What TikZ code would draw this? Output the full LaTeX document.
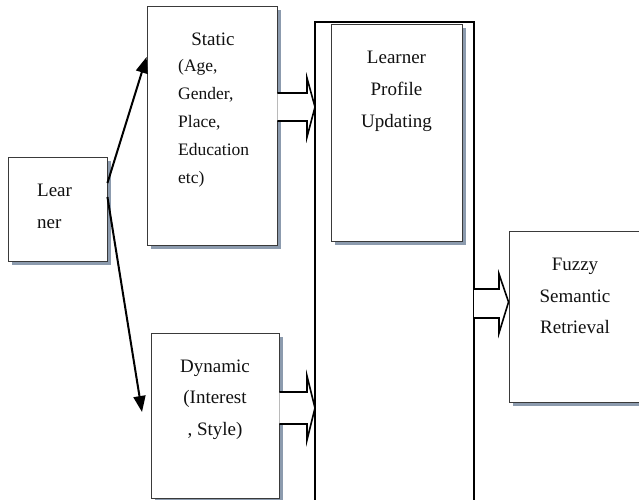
\documentclass[tikz,border=0pt]{standalone}
\usepackage{fontspec}
\setmainfont{Liberation Serif}
\usetikzlibrary{arrows.meta,backgrounds}

\definecolor{shadowc}{HTML}{8C9BAE}
\definecolor{boxline}{HTML}{3A3A3A}
\definecolor{inkc}{HTML}{111111}

\begin{document}
\begin{tikzpicture}[x=1pt,y=-1pt,
  box/.style={draw=boxline, line width=0.9pt, fill=white, inner sep=0pt},
  boxshadow/.style={fill=shadowc},
  txt/.style={font=\fontsize{19}{22}\selectfont, text=inkc, anchor=base, inner sep=0pt},
  lst/.style={font=\fontsize{17.5}{20}\selectfont, text=inkc, anchor=base west, inner sep=0pt},
  frame/.style={draw=black, line width=2pt},
  blockarrow/.style={draw=black, fill=white, line width=1.6pt, line join=miter},
  thinarrow/.style={draw=black, line width=2pt, -{Triangle[length=16pt,width=12pt]}}
]
\useasboundingbox (0,0) rectangle (639,499);
\clip (0,0) rectangle (639,499);

% outer frame (open at the bottom)
\coordinate (fbl) at (315,499);
\coordinate (ftl) at (315,22);
\coordinate (ftr) at (474,22);
\coordinate (fbr) at (474,499);
\draw[frame] ([yshift=-2pt]fbl) -- (ftl) -- (ftr) -- ([yshift=-2pt]fbr);

% boxes
\node[box, minimum width=99pt,  minimum height=104pt] (learner) at (57.5,209)   {};
\node[box, minimum width=130pt, minimum height=239pt] (static)  at (212,125.5)  {};
\node[box, minimum width=131pt, minimum height=217pt] (profile) at (396.5,132.5){};
\node[box, minimum width=128pt, minimum height=165pt] (dynamic) at (215,415.5)  {};
\node[box, minimum width=132pt, minimum height=171pt] (fuzzy)   at (575,316.5)  {};

% box shadows, offset down and right
\begin{scope}[on background layer]
  \foreach \b in {learner,static,profile,dynamic,fuzzy}
    \fill[boxshadow] ([xshift=4pt,yshift=-4pt]\b.north west)
      rectangle ([xshift=4pt,yshift=-4pt]\b.south east);
\end{scope}

% texts
\node[lst, font=\fontsize{19}{22}\selectfont] (lear) at (37,196) {Lear};
\node[lst, font=\fontsize{19}{22}\selectfont] (ner)  at (37,228) {ner};

\node[txt] (st0) at (213,45) {Static};
\node[lst] (st1) at (178,71)  {(Age,};
\node[lst] (st2) at (178,99)  {Gender,};
\node[lst] (st3) at (178,127) {Place,};
\node[lst] (st4) at (178,155) {Education};
\node[lst] (st5) at (178,183) {etc)};

\node[txt] (pr1) at (396.5,63)  {Learner};
\node[txt] (pr2) at (396.5,95)  {Profile};
\node[txt] (pr3) at (396.5,127) {Updating};

\node[txt] (dy1) at (215,372) {Dynamic};
\node[txt] (dy2) at (215,403) {(Interest};
\node[txt] (dy3) at (215,435) {, Style)};

\node[txt] (fz1) at (575,270) {Fuzzy};
\node[txt] (fz2) at (575,302) {Semantic};
\node[txt] (fz3) at (575,333) {Retrieval};

% learner to static / dynamic
\coordinate (dtip) at (142,412);
\draw[thinarrow] (learner.east |- 0,183) -- (static.west |- 0,57);
\draw[thinarrow] (learner.east |- 0,197) -- (dtip);

% block arrows
\draw[blockarrow] (static.east |- 0,93) -- (307,93) -- (307,78) -- (ftl |- 0,107)
  -- (307,137) -- (307,121) -- (static.east |- 0,121);
\draw[blockarrow] (dynamic.east |- 0,392) -- (307,392) -- (307,376) -- (ftl |- 0,408)
  -- (307,440) -- (307,424) -- (dynamic.east |- 0,424);
\draw[blockarrow] (ftr |- 0,289) -- (499,289) -- (499,274) -- (fuzzy.west |- 0,302)
  -- (499,333) -- (499,318) -- (ftr |- 0,318);
\end{tikzpicture}
\end{document}
